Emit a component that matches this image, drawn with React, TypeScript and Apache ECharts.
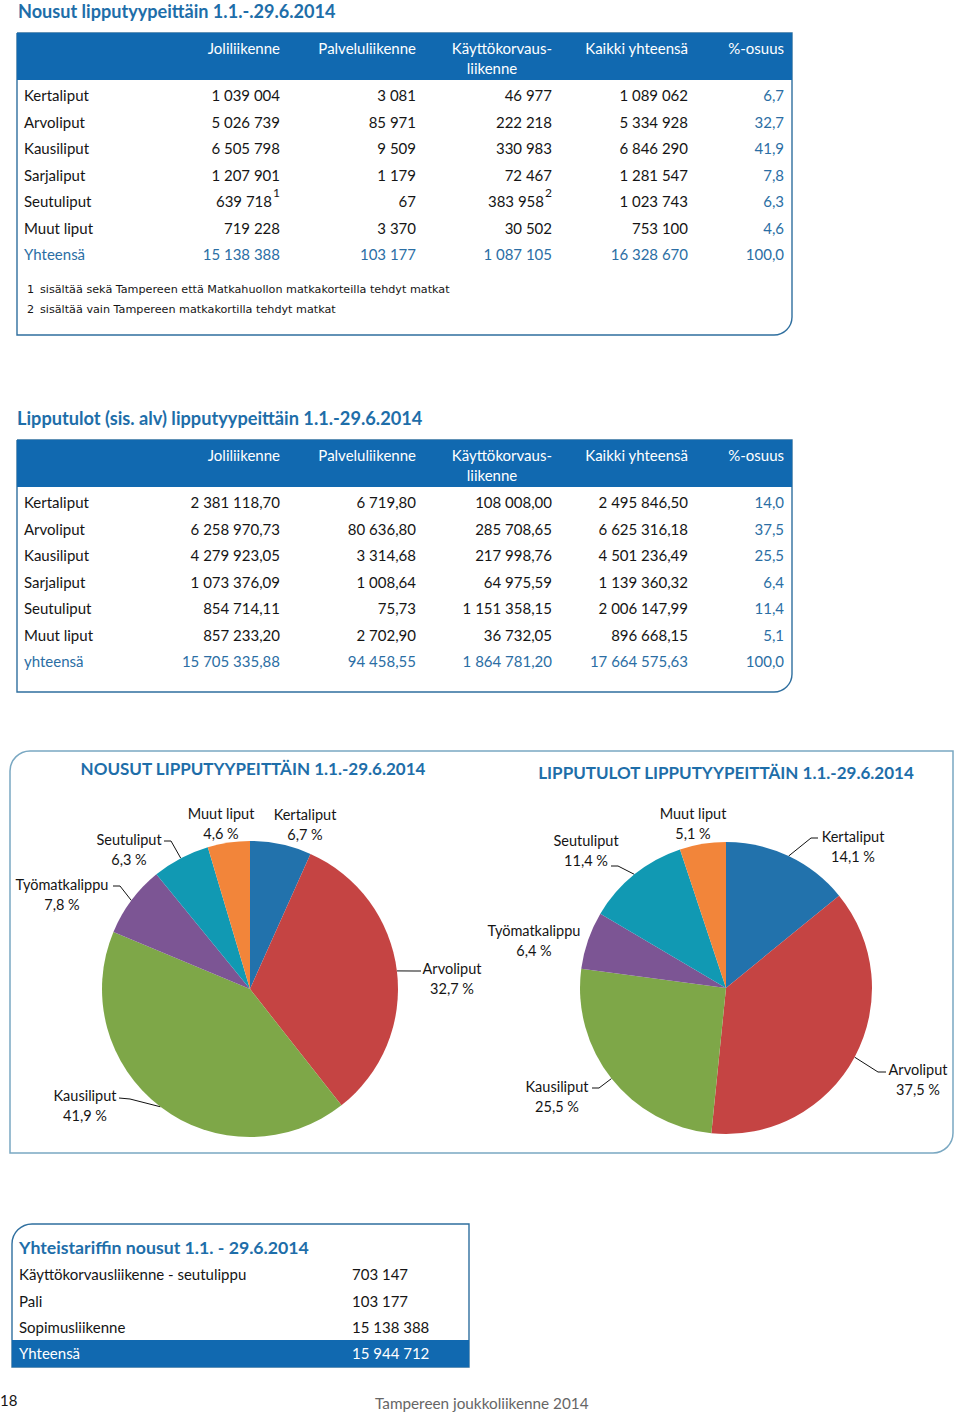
import React, { useEffect, useRef } from 'react';
import * as echarts from 'echarts';

// ---------- DATA ----------
const tableRowLabels1 = ['Kertaliput', 'Arvoliput', 'Kausiliput', 'Sarjaliput', 'Seutuliput', 'Muut liput', 'Yhteensä'];
const tableRowLabels2 = ['Kertaliput', 'Arvoliput', 'Kausiliput', 'Sarjaliput', 'Seutuliput', 'Muut liput', 'yhteensä'];
const headerLine1 = ['Joliliikenne', 'Palveluliikenne', 'Käyttökorvaus-', 'Kaikki yhteensä', '%-osuus'];
const headerLine2 = ['', '', 'liikenne', '', ''];

// Nousut (boardings)
const boardJoli = ['1 039 004', '5 026 739', '6 505 798', '1 207 901', '639 718', '719 228', '15 138 388'];
const boardPali = ['3 081', '85 971', '9 509', '1 179', '67', '3 370', '103 177'];
const boardKayt = ['46 977', '222 218', '330 983', '72 467', '383 958', '30 502', '1 087 105'];
const boardTotal = ['1 089 062', '5 334 928', '6 846 290', '1 281 547', '1 023 743', '753 100', '16 328 670'];
const boardShare = ['6,7', '32,7', '41,9', '7,8', '6,3', '4,6', '100,0'];
const boardMarks = [['', '', '', '', ''], ['', '', '', '', ''], ['', '', '', '', ''], ['', '', '', '', ''], ['1', '', '2', '', ''], ['', '', '', '', ''], ['', '', '', '', '']];
const footnotes = [
  ['1', 'sisältää sekä Tampereen että Matkahuollon matkakorteilla tehdyt matkat'],
  ['2', 'sisältää vain Tampereen matkakortilla tehdyt matkat'],
];

// Lipputulot (revenue)
const revJoli = ['2 381 118,70', '6 258 970,73', '4 279 923,05', '1 073 376,09', '854 714,11', '857 233,20', '15 705 335,88'];
const revPali = ['6 719,80', '80 636,80', '3 314,68', '1 008,64', '75,73', '2 702,90', '94 458,55'];
const revKayt = ['108 008,00', '285 708,65', '217 998,76', '64 975,59', '1 151 358,15', '36 732,05', '1 864 781,20'];
const revTotal = ['2 495 846,50', '6 625 316,18', '4 501 236,49', '1 139 360,32', '2 006 147,99', '896 668,15', '17 664 575,63'];
const revShare = ['14,0', '37,5', '25,5', '6,4', '11,4', '5,1', '100,0'];

// Pies
const pieCategories = ['Kertaliput', 'Arvoliput', 'Kausiliput', 'Työmatkalippu', 'Seutuliput', 'Muut liput'];
const boardingShares = [6.7, 32.7, 41.9, 7.8, 6.3, 4.6];
const revenueShares = [14.1, 37.5, 25.5, 6.4, 11.4, 5.1];

// Yhteistariffi
const tariffLabels = ['Käyttökorvausliikenne - seutulippu', 'Pali', 'Sopimusliikenne'];
const tariffValues = ['703 147', '103 177', '15 138 388'];
const tariffTotalLabel = 'Yhteensä';
const tariffTotalValue = '15 944 712';

// ---------- STYLE / LAYOUT ----------
const FONT = 'Lato';
const BLUE_BAND = '#1169b0';
const BLUE_TEXT = '#2b6ea4';
const BLUE_TITLE = '#1e6ea9';
const BORDER = '#2f6f9f';
const FRAME = '#7aa8c2';
const INK = '#151515';
const pieColors = ['#2272ac', '#c54443', '#7ea748', '#7c5594', '#1199b3', '#f2853a'];
const colRight = [280, 416, 552, 688, 784];

// label centres and leader-line end points [bend, end] (null = no line)
const pie1Labels = [
  { lx: 305, ly: 824, line: null },
  { lx: 452, ly: 978, line: [[414, 971], [421, 971]] },
  { lx: 85, ly: 1105, line: [[130, 1099], [119, 1098]] },
  { lx: 62, ly: 894, line: [[120, 886], [113, 886]] },
  { lx: 129, ly: 849, line: [[171, 841], [164, 841]] },
  { lx: 221, ly: 823, line: null },
];
const pie2Labels = [
  { lx: 853, ly: 846, line: [[811, 838], [818, 838]] },
  { lx: 918, ly: 1079, line: [[878, 1072], [886, 1072]] },
  { lx: 557, ly: 1096, line: [[599, 1088], [592, 1088]] },
  { lx: 534, ly: 940, line: null },
  { lx: 586, ly: 850, line: [[618, 866], [611, 866]] },
  { lx: 693, ly: 823, line: null },
];

function txt(text: string, x: number, y: number, o: any = {}) {
  const align = o.align || 'left';
  return {
    type: 'text',
    x,
    y,
    silent: true,
    style: {
      text,
      fill: o.fill || INK,
      fontSize: o.size || 15,
      fontFamily: o.family || FONT,
      fontWeight: o.weight || 'normal',
      align,
      verticalAlign: 'middle',
      textAlign: align,
      textVerticalAlign: 'middle',
    },
  };
}

function buildTable(top: number, rowLabels: string[], cols: string[][], marks: string[][] | null, height: number) {
  const els: any[] = [];
  const left = 17;
  const width = 775;
  els.push({
    type: 'rect', silent: true,
    shape: { x: left, y: top, width, height, r: [0, 0, 18, 0] },
    style: { fill: 'none', stroke: BORDER, lineWidth: 1.4 },
  });
  els.push({
    type: 'rect', silent: true,
    shape: { x: left, y: top, width, height: 47 },
    style: { fill: BLUE_BAND },
  });
  headerLine1.forEach((h, i) => {
    els.push(txt(h, colRight[i], top + 15, { fill: '#ffffff', align: 'right' }));
  });
  headerLine2.forEach((h, i) => {
    if (h) els.push(txt(h, colRight[i] - 60, top + 35, { fill: '#ffffff', align: 'center' }));
  });
  rowLabels.forEach((lab, r) => {
    const y = top + 62 + r * 26.5;
    const isTotal = r === rowLabels.length - 1;
    els.push(txt(lab, 24, y, { fill: isTotal ? BLUE_TEXT : INK }));
    cols.forEach((col, c) => {
      const isShare = c === cols.length - 1;
      const fill = isTotal || isShare ? BLUE_TEXT : INK;
      const mark = marks ? marks[r][c] : '';
      if (mark) {
        els.push(txt(col[r], colRight[c] - 8, y, { fill, align: 'right' }));
        els.push(txt(mark, colRight[c] - 7, y - 9, { fill, size: 12 }));
      } else {
        els.push(txt(col[r], colRight[c], y, { fill, align: 'right' }));
      }
    });
  });
  return els;
}

function pieLayout(pos: any[]) {
  return (params: any) => {
    const p = pos[params.dataIndex];
    const res: any = { x: p.lx, y: p.ly, align: 'center', verticalAlign: 'middle' };
    if (p.line && params.labelLinePoints && params.labelLinePoints[0]) {
      const s = params.labelLinePoints[0];
      res.labelLinePoints = [[s[0], s[1]], p.line[0], p.line[1]];
    }
    return res;
  };
}

function pieSeries(values: number[], center: number[], radius: number, pos: any[]) {
  return {
    type: 'pie',
    center,
    radius,
    startAngle: 90,
    clockwise: true,
    silent: true,
    avoidLabelOverlap: false,
    color: pieColors,
    itemStyle: { borderWidth: 0 },
    label: {
      show: true,
      position: 'outside',
      fontFamily: FONT,
      fontSize: 14.5,
      lineHeight: 20,
      color: INK,
      align: 'center',
      formatter: (p: any) => `${p.name}\n${String(p.value).replace('.', ',')} %`,
    },
    labelLine: { show: true, length: 10, length2: 6, lineStyle: { color: '#111', width: 1 } },
    labelLayout: pieLayout(pos),
    emphasis: { disabled: true },
    data: pieCategories.map((name, i) => ({
      name,
      value: values[i],
      labelLine: { show: !!pos[i].line },
    })),
  };
}

export default function App() {
  const ref = useRef<HTMLDivElement>(null);
  useEffect(() => {
    if (!ref.current) return;
    const chart = echarts.init(ref.current, null, { renderer: 'svg' });

    const graphics: any[] = [];
    // Table 1
    graphics.push(txt('Nousut lipputyypeittäin 1.1.-.29.6.2014', 18, 11, { fill: BLUE_TITLE, size: 18.1, weight: 'bold' }));
    graphics.push(...buildTable(33, tableRowLabels1, [boardJoli, boardPali, boardKayt, boardTotal, boardShare], boardMarks, 302));
    footnotes.forEach((f, i) => {
      graphics.push(txt(f[0], 27, 289 + i * 20, { family: 'DejaVu Sans', size: 11.2 }));
      graphics.push(txt(f[1], 40, 289 + i * 20, { family: 'DejaVu Sans', size: 11.2 }));
    });
    // Table 2
    graphics.push(txt('Lipputulot (sis. alv) lipputyypeittäin 1.1.-29.6.2014', 17, 418, { fill: BLUE_TITLE, size: 18.2, weight: 'bold' }));
    graphics.push(...buildTable(440, tableRowLabels2, [revJoli, revPali, revKayt, revTotal, revShare], null, 252));

    // Pie frame
    graphics.push({
      type: 'rect', silent: true,
      shape: { x: 10, y: 751, width: 943, height: 402, r: [20, 0, 20, 0] },
      style: { fill: 'none', stroke: FRAME, lineWidth: 1.5 },
    });
    graphics.push(txt('NOUSUT LIPPUTYYPEITTÄIN 1.1.-29.6.2014', 253, 768, { fill: BLUE_TITLE, size: 17, weight: 'bold', align: 'center' }));
    graphics.push(txt('LIPPUTULOT LIPPUTYYPEITTÄIN 1.1.-29.6.2014', 726, 772, { fill: BLUE_TITLE, size: 17, weight: 'bold', align: 'center' }));

    // Yhteistariffi table
    graphics.push({
      type: 'rect', silent: true,
      shape: { x: 12, y: 1224, width: 457, height: 143, r: [20, 0, 0, 0] },
      style: { fill: 'none', stroke: BORDER, lineWidth: 1.4 },
    });
    graphics.push({
      type: 'rect', silent: true,
      shape: { x: 12, y: 1340, width: 457, height: 27 },
      style: { fill: BLUE_BAND },
    });
    graphics.push(txt('Yhteistariffin nousut 1.1. - 29.6.2014', 19, 1247, { fill: BLUE_TITLE, size: 17.7, weight: 'bold' }));
    tariffLabels.forEach((lab, i) => {
      const y = 1274 + i * 26.5;
      graphics.push(txt(lab, 19, y));
      graphics.push(txt(tariffValues[i], 352, y));
    });
    graphics.push(txt(tariffTotalLabel, 19, 1353, { fill: '#ffffff' }));
    graphics.push(txt(tariffTotalValue, 352, 1353, { fill: '#ffffff' }));

    // Footer
    graphics.push(txt('18', 0, 1400, { size: 15 }));
    graphics.push(txt('Tampereen joukkoliikenne 2014', 375, 1403, { size: 15.3, fill: '#666666' }));

    chart.setOption({
      animation: false,
      backgroundColor: '#ffffff',
      graphic: { elements: graphics },
      series: [
        pieSeries(boardingShares, [250, 989], 148, pie1Labels),
        pieSeries(revenueShares, [726, 988], 146, pie2Labels),
      ],
    });
    return () => chart.dispose();
  }, []);
  return <div ref={ref} style={{ position: 'absolute', left: 0, top: 0, width: 960, height: 1414 }} />;
}
